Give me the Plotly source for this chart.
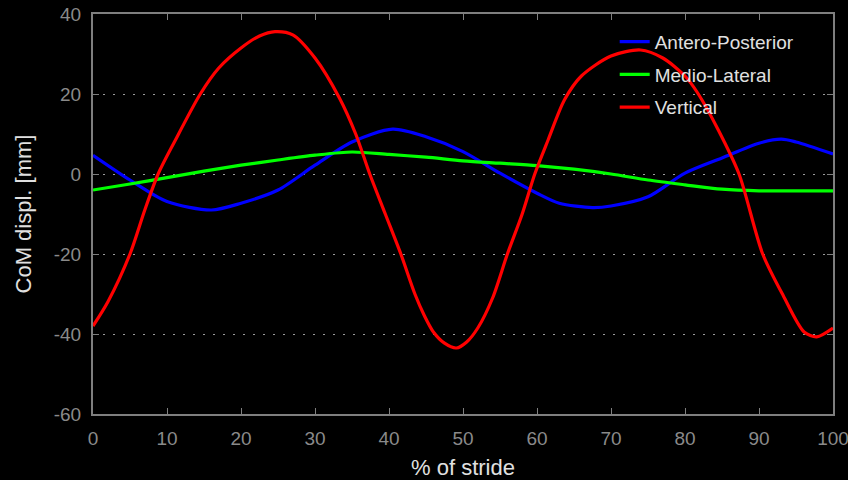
import plotly.graph_objects as go

# Vertical (red)
vert_x = [0, 2, 5, 7, 8.8, 11, 14.5, 17, 20, 22.5, 24.6, 27, 30, 33.3, 35.5, 37.4, 39.5, 41.6, 43.5, 44.8,
          46, 47.5, 49.1, 50.5, 52, 54, 56, 58, 59.7, 61.5, 63.7, 66, 70, 74, 77, 80, 81.8, 84.5, 87.3,
          90.5, 93.3, 96.1, 97.8, 100]
vert_y = [-38, -32, -20, -9, 0, 8, 20, 26.5, 31.5, 34.5, 35.6, 34.8, 29, 19, 10, 0, -10, -20, -30, -35.5,
          -39.5, -42.3, -43.5, -42, -38.5, -31, -20, -10, 0, 8.5, 18.5, 24.5, 29.5, 31, 29, 24.5, 20,
          11, 0, -20, -30.5, -39.5, -40.7, -38.5]

# Antero-Posterior (blue)
ap_x = [0, 5, 10, 16, 20, 25, 30, 35, 40.5, 45, 50, 55, 60, 63, 67.5, 70, 75, 80, 85, 90, 93, 95, 100]
ap_y = [4.7, -1.5, -6.9, -9, -7.3, -4, 2.2, 8, 11.2, 9.3, 5.6, 0.2, -4.8, -7.3, -8.4, -8, -5.7, 0.2, 4,
        7.7, 8.7, 8, 5]

# Medio-Lateral (green)
ml_x = [0, 5, 10, 15, 20, 25, 30, 35, 40, 45, 50, 55, 60, 65, 70, 75, 80, 85, 90, 95, 100]
ml_y = [-4, -2.5, -0.9, 0.7, 2.2, 3.5, 4.7, 5.5, 4.9, 4.2, 3.3, 2.7, 2.1, 1.2, 0, -1.5, -2.7, -3.8, -4.2,
        -4.2, -4.2]

x_ticks = [0, 10, 20, 30, 40, 50, 60, 70, 80, 90, 100]
x_tick_labels = ["0", "10", "20", "30", "40", "50", "60", "70", "80", "90", "100"]
y_ticks = [-60, -40, -20, 0, 20, 40]
y_tick_labels = ["-60", "-40", "-20", "0", "20", "40"]

FONT = "Liberation Sans, Arial, sans-serif"
TICK_COLOR = "#8a8a8a"
AXIS_COLOR = "#7f7f7f"
TEXT_COLOR = "#e0e0e0"

fig = go.Figure()
series = [("Antero-Posterior", ap_x, ap_y, "#0000ff"),
          ("Medio-Lateral", ml_x, ml_y, "#00ff00"),
          ("Vertical", vert_x, vert_y, "#ff0000")]
for name, xs, ys, col in series:
    fig.add_trace(go.Scatter(x=xs, y=ys, mode="lines", name=name, legendgroup=name,
                             line=dict(color=col, width=3.2, shape="spline", smoothing=0.8)))

fig.update_layout(
    width=848, height=480,
    paper_bgcolor="#000000", plot_bgcolor="#000000",
    margin=dict(l=93, r=15, t=14, b=66, autoexpand=False),
    font=dict(family=FONT, size=19, color=TICK_COLOR),
    legend=dict(x=0.705, y=0.978, xanchor="left", yanchor="top",
                bgcolor="rgba(0,0,0,0)", borderwidth=0,
                font=dict(family=FONT, size=19, color=TEXT_COLOR),
                tracegroupgap=5, traceorder="grouped"),
    showlegend=True,
)
fig.update_xaxes(range=[0, 100], tickvals=x_ticks, ticktext=x_tick_labels, ticks="inside", ticklen=6,
                 tickcolor=AXIS_COLOR, showline=True, linecolor=AXIS_COLOR, linewidth=2, mirror="ticks",
                 showgrid=False, zeroline=False, ticklabelstandoff=6, automargin=False,
                 ticklabeloverflow="allow",
                 tickfont=dict(family=FONT, size=19, color=TICK_COLOR),
                 title=dict(text="% of stride", font=dict(family=FONT, size=22, color=TEXT_COLOR),
                            standoff=12))
fig.update_yaxes(range=[-60, 40], tickvals=y_ticks, ticktext=y_tick_labels, ticks="inside", ticklen=6,
                 tickcolor=AXIS_COLOR, showline=True, linecolor=AXIS_COLOR, linewidth=2, mirror="ticks",
                 showgrid=True, gridcolor="#9a9a9a", gridwidth=1, griddash="2px,8px",
                 zeroline=False, ticklabelstandoff=6, automargin=False, ticklabeloverflow="allow",
                 tickfont=dict(family=FONT, size=19, color=TICK_COLOR),
                 title=dict(text="CoM displ. [mm]", font=dict(family=FONT, size=22, color=TEXT_COLOR),
                            standoff=16))

fig.write_html("out.html", config={"displayModeBar": False},
               post_script="document.body.style.margin='0';document.body.style.background='#000';")
